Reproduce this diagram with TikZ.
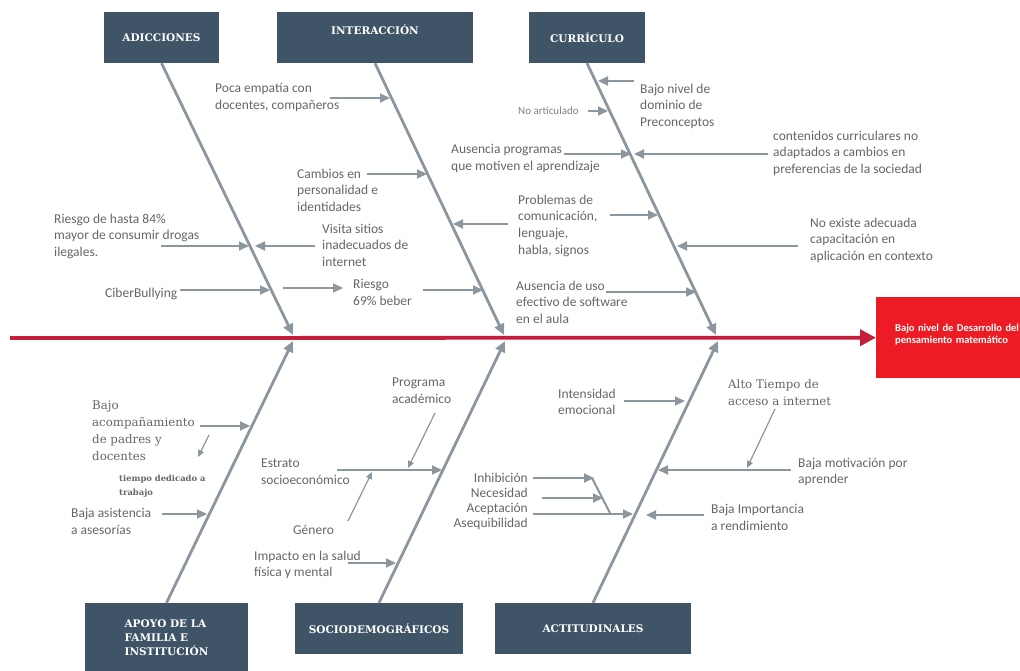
\documentclass[tikz,border=0pt]{standalone}
\usepackage{fontspec}
\setmainfont{Carlito}
\newfontfamily\dvserif{DejaVu Serif}
\usetikzlibrary{arrows.meta}
\definecolor{boxgray}{HTML}{3F5567}
\definecolor{bonegray}{HTML}{8C969E}
\definecolor{txtgray}{HTML}{63666A}
\definecolor{spinered}{HTML}{C41E3A}
\definecolor{headred}{HTML}{ED1C24}
\begin{document}
\begin{tikzpicture}[x=1pt,y=-1pt,
   catbox/.style={fill=boxgray,text=white,inner sep=0pt,minimum height=51pt,
     font=\dvserif\bfseries\fontsize{10.5}{14}\selectfont},
   cause/.style={anchor=north west,inner sep=0pt,align=left,text=txtgray,yshift=-3.5pt,
     font=\fontsize{13.5}{16.7}\selectfont,execute at begin node=\strut},
   scause/.style={cause,yshift=-4pt,font=\dvserif\fontsize{11.8}{17}\selectfont},
   bone/.style={draw=bonegray,line width=2.8pt,-{Triangle[length=11pt,width=10pt]}},
   twig/.style={draw=bonegray,line width=2pt,-{Triangle[length=10pt,width=9pt]}},
   sprig/.style={draw=bonegray,line width=1.2pt,-{Triangle[length=7pt,width=6pt]}},
   spine/.style={draw=spinered,line width=3.8pt,-{Triangle[length=16pt,width=16pt]}}]
   \useasboundingbox (0,0) rectangle (1020,671);

   % 頭
   \node[fill=headred,text=white,anchor=north west,inner xsep=19pt,inner ysep=0pt,
     minimum height=81pt,text width=150pt,align=left,text depth=20pt,
     font=\bfseries\fontsize{10.5}{12}\selectfont] (head) at (876,297)
     {Bajo nivel de Desarrollo del\\pensamiento matemático};

   % 背骨
   \coordinate (tail) at (10,338);
   \draw[spine] (tail) -- (head.west);

   % 分類
   \node[catbox,minimum width=115pt] (adic) at (161.5,37.5) {ADICCIONES};
   \node[catbox,minimum width=196pt,text depth=16pt] (inter) at (375,37.5) {INTERACCIÓN};
   \node[catbox,minimum width=116pt] (curr) at (587,37.5) {CURRÍCULO};
   \node[catbox,minimum width=163pt,minimum height=72pt,align=left,text depth=3pt] (apoyo) at (166.5,639)
     {APOYO DE LA\\FAMILIA E\\INSTITUCIÓN};
   \node[catbox,minimum width=168pt] (socio) at (379,628.5) {SOCIODEMOGRÁFICOS};
   \node[catbox,minimum width=196pt] (acti) at (593,628.5) {ACTITUDINALES};

   % 枝
   \coordinate (t1) at (293,335);
   \coordinate (t2) at (504,335);
   \coordinate (t3) at (716,335);
   \coordinate (b1) at (293,341);
   \coordinate (b2) at (505,341);
   \coordinate (b3) at (718,341);
   \draw[bone] (adic.south) -- (t1);
   \draw[bone] (inter.south) -- (t2);
   \draw[bone] (curr.south) -- (t3);
   \draw[bone] (apoyo.north) -- (b1);
   \draw[bone] (socio.north) -- (b2);
   \draw[bone] (acti.north) -- (b3);

   % 要因 (上)
   \node[cause] (poca) at (215,80) {Poca empatía con\\docentes, compañeros};
   \node[cause] (cambios) at (297,165) {Cambios en\\personalidad e\\identidades};
   \node[cause] (riesgo84) at (54,210) {Riesgo de hasta 84\%\\mayor de consumir drogas\\ilegales.};
   \node[cause] (visita) at (322,220) {Visita sitios\\inadecuados de\\internet};
   \node[cause] (ciber) at (105,282) {CiberBullying};
   \node[cause] (riesgo69) at (353,276) {Riesgo\\69\% beber};
   \node[cause] (bajonivel) at (640,80) {Bajo nivel de\\dominio de\\Preconceptos};
   \node[cause,text=gray,font=\fontsize{11}{13}\selectfont] (noart) at (518,102) {No articulado};
   \node[cause] (ausprog) at (451,141) {Ausencia programas\\que motiven el aprendizaje};
   \node[cause] (contenidos) at (773,127) {contenidos curriculares no\\adaptados a cambios en\\preferencias de la sociedad};
   \node[cause] (problemas) at (518,191) {Problemas de\\comunicación,\\lenguaje,\\habla, signos};
   \node[cause] (noexiste) at (810,214) {No existe adecuada\\capacitación en\\aplicación en contexto};
   \node[cause] (aususo) at (516,277) {Ausencia de uso\\efectivo de software\\en el aula};

   \draw[twig] (330,98) -- (390,98);
   \draw[twig] (367,174) -- (427,174);
   \draw[twig] (161,246) -- (249,246);
   \draw[twig] (315,246) -- (255,246);
   \draw[twig] (180,290) -- (270,290);
   \draw[twig] (283,288) -- (343,288);
   \draw[twig] (423,290) -- (483,290);
   \draw[twig] (508,224) -- (453,224);
   \draw[twig] (634,81) -- (598,81);
   \draw[twig] (588,111) -- (608,111);
   \draw[twig] (564,154) -- (631,154);
   \draw[twig] (768,154) -- (634,154);
   \draw[twig] (610,215) -- (658,215);
   \draw[twig] (798,246) -- (677,246);
   \draw[twig] (606,292) -- (696,292);

   % 要因 (下)
   \node[scause] (bajoacomp) at (92,393) {Bajo\\acompañamiento\\de padres y\\docentes};
   \node[scause,font=\dvserif\bfseries\fontsize{8.4}{14}\selectfont] (tiempo) at (119,467) {tiempo dedicado a\\trabajo};
   \node[cause] (bajaasis) at (71,505) {Baja asistencia\\a asesorías};
   \node[cause] (estrato) at (261,455) {Estrato\\socioeconómico};
   \node[cause] (programa) at (392,374) {Programa\\académico};
   \node[cause] (genero) at (293,519) {Género};
   \node[cause] (impacto) at (254,547) {Impacto en la salud\\física y mental};
   \node[cause] (intens) at (558,385) {Intensidad\\emocional};
   \node[scause,yshift=1pt,font=\dvserif\fontsize{11.8}{16.5}\selectfont] (alto) at (728,373) {Alto Tiempo de\\acceso a internet};
   \node[cause] (bajamot) at (798,454) {Baja motivación por\\aprender};
   \node[cause] (bajaimp) at (711,501) {Baja Importancia\\a rendimiento};
   \node[cause,anchor=north east,align=right,font=\fontsize{13.5}{15.3}\selectfont] (inhib) at (528,469)
     {Inhibición\\Necesidad\\Aceptación\\Asequibilidad};

   \draw[twig] (200,426) -- (250,426);
   \draw[sprig] (209,435) -- (198,457);
   \draw[twig] (162,514) -- (207,514);
   \draw[twig] (337,470) -- (442,470);
   \draw[sprig] (435,413) -- (408,468);
   \draw[sprig] (348,521) -- (372,472);
   \draw[twig] (348,563) -- (396,563);
   \draw[twig] (624,401) -- (685,401);
   \draw[sprig] (775,409) -- (747,468);
   \draw[twig] (791,470) -- (658,470);
   \draw[twig] (704,515) -- (646,515);
   \draw[twig] (533,478) -- (594,478);
   \draw[twig] (542,498) -- (603,498);
   \draw[draw=bonegray,line width=2pt] (592,478) -- (610,513);
   \draw[twig] (533,514) -- (633,514);

\end{tikzpicture}
\end{document}
